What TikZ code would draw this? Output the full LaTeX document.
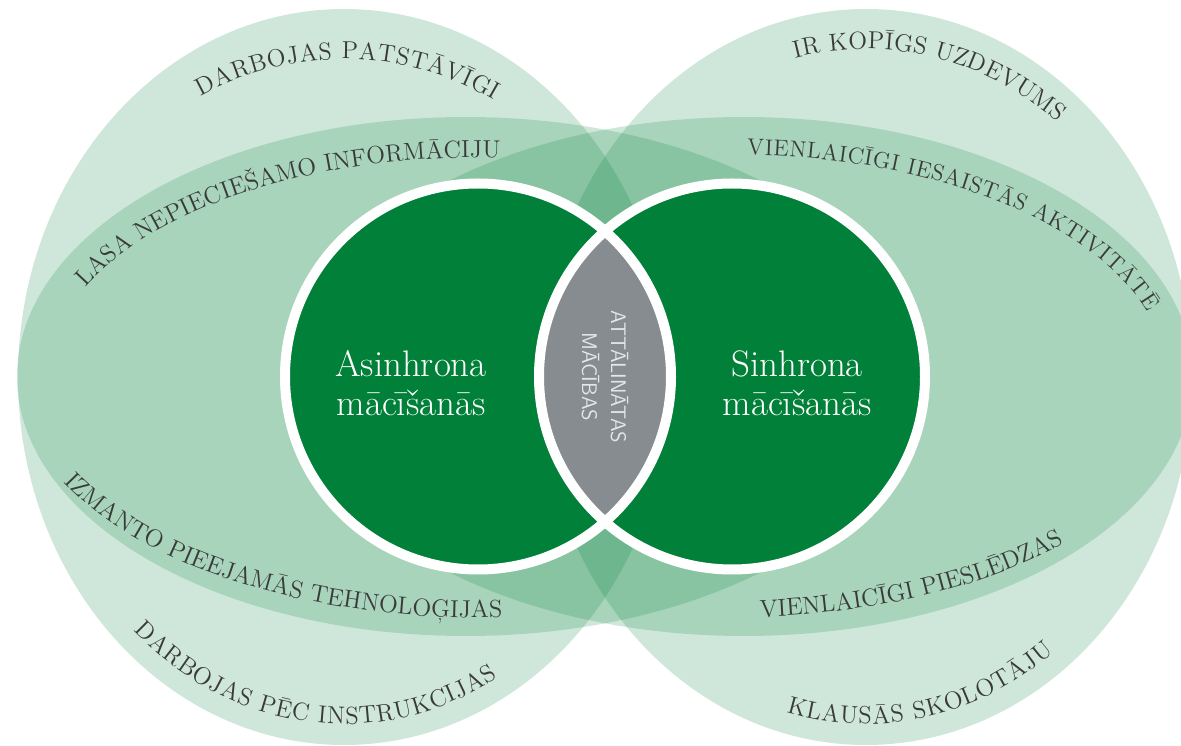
\documentclass[tikz,border=0pt]{standalone}
\usepackage{tikz}
\usepackage{xcolor}
\usetikzlibrary{decorations.text}
\definecolor{venngreen}{RGB}{0,128,56}
\definecolor{lensgray}{RGB}{134,140,143}
\definecolor{txtgray}{RGB}{58,58,58}
\definecolor{lenstext}{RGB}{228,230,231}
\newcommand{\arcfont}{\fontsize{14}{16}\selectfont}
\newcommand{\arcfontsm}{\fontsize{13}{15}\selectfont}
\tikzset{
  halo/.style={fill=venngreen, fill opacity=0.19},
  ring/.style={draw=white, line width=0.2cm},
  arctext/.style={decorate, decoration={text along path, text={|\arcfont|#1},
      text align={fit to path}, text color=txtgray}},
  arctextsm/.style={decorate, decoration={text along path, text={|\arcfontsm|#1},
      text align={fit to path}, text color=txtgray}},
  mainlabel/.style={text=white, align=center, font=\fontsize{21}{22}\selectfont},
  lenslabel/.style={text=lenstext, align=center, font=\sffamily\fontsize{12}{16.5}\selectfont}
}
\begin{document}
\begin{tikzpicture}[x=0.02cm, y=-0.02cm]
	\useasboundingbox (0,0) rectangle (1181,746);
	\clip (0,0) rectangle (1181,746);
	\coordinate (leftO) at (344,377);
	\coordinate (rightO) at (866,377);
	\coordinate (asyncO) at (478,376.5);
	\coordinate (syncO) at (732,376.5);
	%outer ovals
	\fill[halo] (leftO) ellipse[x radius=326, y radius=368];
	\fill[halo] (rightO) ellipse[x radius=326, y radius=368];
	%wide ovals
	\fill[halo] (466,376.5) ellipse[x radius=449, y radius=259.5];
	\fill[halo] (744,376.5) ellipse[x radius=449, y radius=259.5];
	%circles
	\fill[venngreen] (asyncO) circle[radius=193];
	\fill[venngreen] (syncO) circle[radius=193];
	\begin{scope}
		\clip (asyncO) circle[radius=193];
		\fill[lensgray] (syncO) circle[radius=193];
	\end{scope}
	\draw[ring] (asyncO) circle[radius=193];
	\draw[ring] (syncO) circle[radius=193];
	%labels
	\node[mainlabel] (async) at (411,383) {Asinhrona\\mācīšanās};
	\node[mainlabel] (sync) at (797,383) {Sinhrona\\mācīšanās};
	\node[lenslabel, rotate=-90] (remote) at (605,377) {ATTĀLINĀTAS\\MĀCĪBAS};
	%texts on the ovals
	\path[arctext={DARBOJAS PATSTĀVĪGI}] ([shift={(344,377)}]242:305 and 318)
		arc[start angle=242, end angle=299.5, x radius=305, y radius=318];
	\path[arctext={LASA NEPIECIEŠAMO INFORMĀCIJU}] ([shift={(478,376.5)}]204:430 and 219)
		arc[start angle=204, end angle=272, x radius=430, y radius=219];
	\path[arctext={IZMANTO PIEEJAMĀS TEHNOLOĢIJAS}] ([shift={(478,376.5)}]154:461 and 241)
		arc[start angle=154, end angle=87, x radius=461, y radius=241];
	\path[arctext={DARBOJAS PĒC INSTRUKCIJAS}] ([shift={(344,377)}]133:308 and 347)
		arc[start angle=133, end angle=60, x radius=308, y radius=347];
	\path[arctext={IR KOPĪGS UZDEVUMS}] ([shift={(866,377)}]256.5:305 and 328)
		arc[start angle=256.5, end angle=309, x radius=305, y radius=328];
	\path[arctextsm={VIENLAICĪGI IESAISTĀS AKTIVITĀTĒ}] ([shift={(732,376.5)}]272:434 and 222)
		arc[start angle=272, end angle=343, x radius=434, y radius=222];
	\path[arctext={VIENLAICĪGI PIESLĒDZAS}] ([shift={(732,376.5)}]86.5:461 and 241)
		arc[start angle=86.5, end angle=44.7, x radius=461, y radius=241];
	\path[arctext={KLAUSĀS SKOLOTĀJU}] ([shift={(866,377)}]105:308 and 347)
		arc[start angle=105, end angle=52.4, x radius=308, y radius=347];
\end{tikzpicture}
\end{document}
